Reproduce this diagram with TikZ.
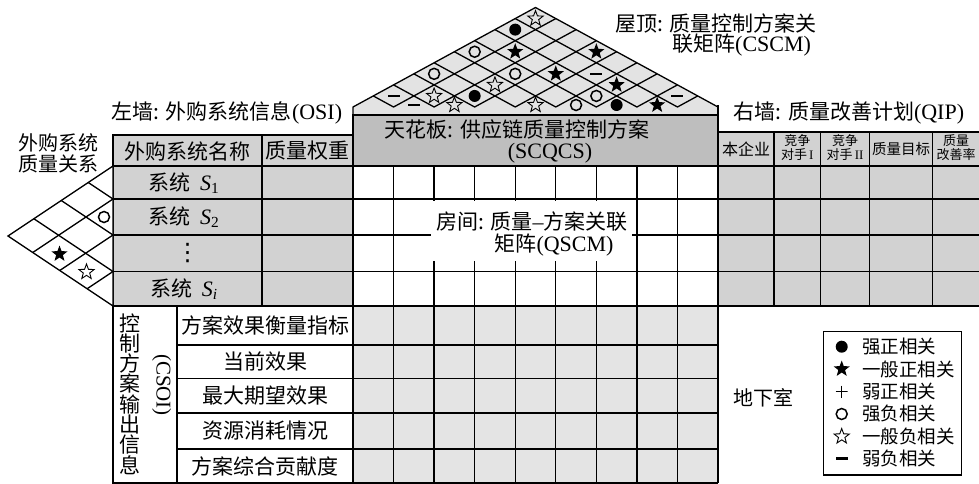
\documentclass[tikz,border=0pt]{standalone}
\usepackage{fontspec}
\setmainfont{Liberation Serif}
\newfontfamily\cjk{Noto Sans CJK SC}
\newfontfamily\dejavu{DejaVu Sans}
\usetikzlibrary{shapes.geometric}
\definecolor{roofgray}{HTML}{E3E3E3}
\definecolor{ceilgray}{HTML}{BEBEBE}
\definecolor{tabgray}{HTML}{D2D2D2}
\definecolor{basegray}{HTML}{E4E4E4}
\newcommand\latn[1]{{\rmfamily\fontsize{22}{22}\selectfont #1}}
\begin{document}
\begin{tikzpicture}[x=1pt,y=-1pt,
  ln/.style={line width=1.3pt},
  hv/.style={line width=2.2pt},
  t/.style={font=\cjk\fontsize{21}{21}\selectfont, inner sep=0pt},
  ts/.style={font=\cjk\fontsize{13}{13}\selectfont, inner sep=0pt},
  tl/.style={font=\cjk\fontsize{18.5}{18.5}\selectfont, inner sep=0pt},
  fcirc/.style={circle, fill=black, inner sep=0pt, minimum size=12pt},
  ocirc/.style={circle, draw=black, line width=1.5pt, inner sep=0pt, minimum size=11pt},
  fstar/.style={star, star points=5, star point ratio=2.4, fill=black, inner sep=0pt, minimum size=17pt},
  ostar/.style={star, star points=5, star point ratio=2.4, draw=black, line width=0.9pt, inner sep=0pt, minimum size=16pt},
  minus/.style={rectangle, fill=black, inner sep=0pt, minimum width=12pt, minimum height=2.2pt},
  plussym/.style={rectangle, inner sep=0pt, minimum size=12pt, path picture={\draw[line width=1.5pt] (path picture bounding box.north) -- (path picture bounding box.south) (path picture bounding box.west) -- (path picture bounding box.east);}},
]
\useasboundingbox (0,0) rectangle (979,484);
\clip (0,0) rectangle (979,484);

% ---------- roof ----------
\filldraw[fill=roofgray, ln] (353,115) -- (353,107) -- (535.5,7.5) -- (718,107) -- (718,115) -- cycle;
\foreach \k in {1,...,8}{
  \pgfmathsetmacro\bx{353+365/9*\k}
  \pgfmathsetmacro\rx{(\bx+718)/2}
  \pgfmathsetmacro\ry{107-0.545*(718-\bx)/2}
  \pgfmathsetmacro\lx{(\bx+353)/2}
  \pgfmathsetmacro\ly{107-0.545*(\bx-353)/2}
  \draw[ln] (\lx,\ly) -- (\bx,107) -- (\rx,\ry);
}
\foreach \i/\j/\st [count=\n] in {1/9/ostar,1/8/fcirc,1/6/ocirc,2/7/fstar,4/9/fstar,1/4/ocirc,3/6/ocirc,4/7/fstar,5/8/minus,1/2/minus,2/3/ostar,3/5/ostar,3/4/fcirc,6/8/fstar,6/7/ocirc,8/9/minus,2/2/minus,3/3/ostar,5/5/ostar,6/6/ocirc,7/7/fcirc,8/8/fstar}{
  \pgfmathsetmacro\xx{353+365/9*((\i+\j)/2-0.5)}
  \pgfmathsetmacro\yy{\i==\j ? 105 : 107-0.545*365/9*(\j-\i)/2}
  \node[\st] (rf\n) at (\xx,\yy) {};
}

% ---------- ceiling ----------
\filldraw[fill=ceilgray, hv] (353,115) rectangle (718,166);
\node[t] (ceil1) at (517,130) {天花板: 供应链质量控制方案};
\node[t] (ceil2) at (550,153) {\latn{(SCQCS)}};

% ---------- room ----------
\foreach \k in {1,...,8} \draw[ln] ({353+365/9*\k},166) -- ({353+365/9*\k},306);
\foreach \y in {199,235,271.5} \draw[ln] (353,\y) -- (718,\y);
\node[fill=white, inner sep=0pt, minimum width=201pt, minimum height=60pt] (roombox) at (531.5,230.5) {};
\node[t] (room1) at (532,221.5) {房间: 质量\latn{–}方案关联};
\node[t] (room2) at (554,245) {矩阵\latn{(QSCM)}};

% ---------- basement ----------
\fill[basegray] (353,306) rectangle (718,483);
\foreach \k in {1,...,8} \draw[ln] ({353+365/9*\k},306) -- ({353+365/9*\k},483);
\foreach \y in {345,378.5,413,449} \draw[ln] (353,\y) -- (718,\y);
\draw[ln] (113,483) -- (718,483);

% ---------- left wall table ----------
\filldraw[fill=tabgray, ln] (113,135) rectangle (353,306);
\draw[ln] (262,135) -- (262,306);
\foreach \y in {166,199,235,271.5} \draw[ln] (113,\y) -- (353,\y);
\node[t] (h1) at (187.5,151) {外购系统名称};
\node[t] (h2) at (307.5,151) {质量权重};
\node[t] (s1) at (184,183) {系统\ \ \latn{\textit{S}\textsubscript{1}}};
\node[t] (s2) at (184,217.5) {系统\ \ \latn{\textit{S}\textsubscript{2}}};
\node[inner sep=0pt, font=\dejavu\fontsize{24}{24}\selectfont] (sd) at (187.5,253) {⋮};
\node[t] (si) at (184,289) {系统\ \ \latn{\textit{S}\textsubscript{\textit{i}}}};
\node[t] (lwt) at (227,113) {左墙: 外购系统信息\latn{(OSI)}};

% ---------- left matrix ----------
\filldraw[fill=white, ln] (113,166) -- (8,236) -- (113,306) -- cycle;
\foreach \yk in {199,235,271.5}{
  \draw[ln] ({113-1.5*(\yk-166)/2},{(\yk+166)/2}) -- (113,\yk) -- ({113-1.5*(306-\yk)/2},{(\yk+306)/2});
}
\node[ocirc] (lf1) at (104,217) {};
\node[fstar] (lf2) at (59.5,254) {};
\node[ostar] (lf3) at (86.5,272) {};
\node[t, font=\cjk\fontsize{20}{20}\selectfont] (lm1) at (58,142.5) {外购系统};
\node[t, font=\cjk\fontsize{20}{20}\selectfont] (lm2) at (58,163.5) {质量关系};

% ---------- CSOI ----------
\draw[ln] (113,306) rectangle (353,483);
\draw[ln] (177,306) -- (177,483);
\foreach \y in {345,378.5,413,449} \draw[ln] (177,\y) -- (353,\y);
\foreach \c [count=\n] in {控,制,方,案,输,出,信,息} \node[t] (cv\n) at (130,{323+20.3*(\n-1)}) {\c};
\node[rotate=-90, inner sep=0pt, font=\rmfamily\fontsize{21}{21}\selectfont] (csoi) at (161.7,385) {(CSOI)};
\node[t] (c1) at (265,325.5) {方案效果衡量指标};
\node[t] (c2) at (265,361.75) {当前效果};
\node[t] (c3) at (265,395.75) {最大期望效果};
\node[t] (c4) at (265,431) {资源消耗情况};
\node[t] (c5) at (265,466) {方案综合贡献度};

% ---------- right wall ----------
\fill[tabgray] (718,132) rectangle (990,306);
\foreach \x in {774,820.7,869.3,932.7} \draw[ln] (\x,132) -- (\x,306);
\foreach \y in {132,166,199,235,271.5,306} \draw[ln] (718,\y) -- (990,\y);
\node[inner sep=0pt, font=\cjk\fontsize{16}{16}\selectfont] (rh1) at (746,149) {本企业};
\node[ts] (rh2a) at (797.3,141) {竞争};
\node[ts] (rh2b) at (797.3,155) {对手\,{\rmfamily I}};
\node[ts] (rh3a) at (845,141) {竞争};
\node[ts] (rh3b) at (845,155) {对手\,{\rmfamily II}};
\node[inner sep=0pt, font=\cjk\fontsize{14.5}{14.5}\selectfont] (rh4) at (901,149) {质量目标};
\node[ts] (rh5a) at (956,141) {质量};
\node[ts] (rh5b) at (956,155) {改善率};
\node[t] (rwt) at (849,113) {右墙: 质量改善计划\latn{(QIP)}};

% ---------- heavy frame lines ----------
\draw[hv] (353,115) -- (353,483);
\draw[hv] (718,105) -- (718,483);
\draw[hv] (353,166) -- (718,166);
\draw[hv] (353,306) -- (718,306);

% ---------- roof title ----------
\node[t, anchor=west] (rooft1) at (615,23) {屋顶: 质量控制方案关};
\node[t, anchor=west] (rooft2) at (672,45) {联矩阵\latn{(CSCM)}};

% ---------- basement label and legend ----------
\node[t, font=\cjk\fontsize{20}{20}\selectfont] (basel) at (763,398) {地下室};
\draw[ln] (823.3,331.7) rectangle (961.7,475);
\foreach \st/\lab/\yy [count=\n] in {fcirc/强正相关/346.7, fstar/一般正相关/369, plussym/弱正相关/391.5, ocirc/强负相关/414, ostar/一般负相关/436.5, minus/弱负相关/458.5}{
  \node[\st] (lg\n) at (841.7,\yy) {};
  \node[tl, anchor=west] (lt\n) at (862,\yy) {\lab};
}
\end{tikzpicture}
\end{document}
